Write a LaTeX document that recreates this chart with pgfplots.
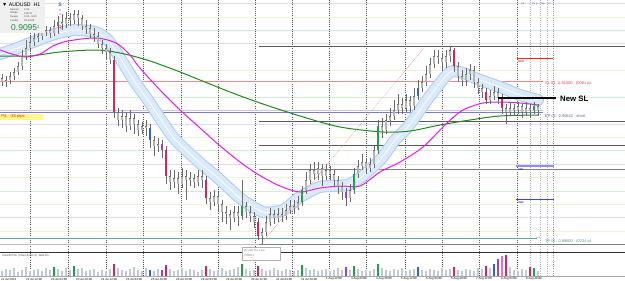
\documentclass[border=0pt]{standalone}
\usepackage{pgfplots}
\pgfplotsset{compat=1.18}
\usepackage{pgfplotstable}
\usepackage{fontspec}
\setmainfont{Liberation Sans}
\newcommand\fs[1]{\fontsize{#1}{#1}\selectfont}
\definecolor{lav}{HTML}{DCDCF2}
\definecolor{yel}{HTML}{EEF2D6}
\definecolor{grn}{HTML}{D4EED4}
\definecolor{darkln}{HTML}{5A5A5A}
\definecolor{slred}{HTML}{F08A8A}
\definecolor{entry}{HTML}{7C7CC8}
\definecolor{entrylt}{HTML}{C4C4EC}
\definecolor{tpgreen}{HTML}{5AAE8C}
\definecolor{bandedge}{HTML}{B0CFF0}
\definecolor{bandfill}{HTML}{DAEAFB}
\definecolor{mag}{HTML}{E81CE8}
\definecolor{maslow}{HTML}{1E8A1E}
\definecolor{wick}{HTML}{6A6A6A}
\definecolor{bodyd}{HTML}{707070}
\definecolor{bodyl}{HTML}{B4B4B4}
\definecolor{cred}{HTML}{E0205A}
\definecolor{cgreen}{HTML}{1FA04A}
\definecolor{cblue}{HTML}{3060E0}
\definecolor{cpurple}{HTML}{9A40E0}
\definecolor{cpink}{HTML}{F070B0}
\definecolor{volg}{HTML}{C4C8D4}

\pgfplotstableread{
x y
0 56
30 56
60 52
96 50
120 53
147 60
175 70
200 80
230 92
260 103
300 116
340 127
383 132
410 131
440 125
470 120
500 116
538 115
}\maslowtab

\pgfplotstableread{
x y
0 50
12 54
25 57
40 54
53 46
68 41
96 38
116 43
130 55
139 67
160 90
180 110
200 128
219 145
240 162
259 175
280 186
300 192
320 188
340 186
360 186
380 172
400 162
423 147
447 123
463 110
483 103
500 102
520 103
538 105
}\magtab

\pgfplotstableread{
x y
0 54
15 49
33 42
55 34
75 30
95 32
108 40
120 58
135 82
150 103
173 137
200 163
217 177
240 198
263 212
283 210
300 197
320 187
347 185
360 178
380 160
395 140
407 128
420 110
433 92
450 72
463 73
480 80
500 87
520 95
538 100
}\bandtab

\pgfplotstableread{
x o h l c
2 78 74 86 82
6 82 76 87 80
10 80 72 84 76
14 76 68 80 72
18 72 62 75 66
22 66 50 70 56
26 56 40 60 48
30 48 36 52 42
34 42 32 46 38
38 38 30 42 36
42 36 27 40 32
46 32 26 36 30
50 30 27 38 33
54 33 20 36 26
58 26 16 34 22
62 22 14 30 24
66 24 12 28 18
70 18 13 26 20
74 20 10 24 14
78 14 10 26 18
82 18 15 30 26
86 26 20 34 28
90 28 24 38 34
94 34 28 42 36
98 36 32 48 44
102 44 40 54 48
106 48 44 60 52
110 52 48 64 60
114 60 56 118 112
118 112 108 126 120
122 120 110 128 116
126 116 112 132 126
130 126 110 130 118
134 118 114 134 124
138 124 120 136 130
142 130 122 134 126
146 126 120 136 128
150 128 124 148 140
154 140 136 156 146
158 146 138 152 144
162 144 140 158 150
166 150 146 184 176
170 176 170 190 182
174 182 170 188 178
178 178 172 194 184
182 184 168 188 176
186 176 170 200 180
190 180 172 186 178
194 178 174 188 182
198 182 170 186 176
202 176 170 188 180
206 180 176 204 198
210 198 192 210 202
214 202 190 206 196
218 196 192 212 204
222 204 200 222 212
226 212 206 224 214
230 214 210 230 218
234 218 206 222 212
238 212 206 226 216
242 216 180 220 206
246 206 202 218 212
250 212 206 222 216
254 216 212 228 222
258 222 218 240 236
262 236 228 244 232
266 232 216 236 222
270 222 208 226 214
274 214 210 224 218
278 218 208 222 214
282 214 208 222 216
286 216 204 220 210
290 210 200 214 206
294 206 200 214 208
298 208 196 210 202
302 202 186 206 190
306 190 172 194 180
310 180 164 184 170
314 170 162 180 174
318 174 162 180 168
322 168 164 186 176
326 176 164 180 170
330 170 166 180 174
334 174 170 186 180
338 180 176 194 186
342 186 182 200 192
346 192 188 206 198
350 198 184 202 190
354 190 168 194 174
358 174 160 178 166
362 166 154 170 162
366 162 158 174 168
370 168 158 172 164
374 164 146 168 150
378 150 120 154 126
382 126 118 138 130
386 130 114 134 120
390 120 108 126 116
394 116 100 120 110
398 110 94 114 104
402 104 98 114 108
406 108 94 112 100
410 100 96 112 106
414 106 88 110 96
418 96 80 100 88
422 88 76 92 82
426 82 66 86 74
430 74 58 78 64
434 64 50 68 56
438 56 50 64 58
442 58 54 70 62
446 62 50 68 56
450 56 46 62 50
454 50 48 72 66
458 66 62 82 76
462 76 70 86 80
466 80 68 86 74
470 74 64 80 70
474 70 66 88 82
478 82 78 94 88
482 88 84 98 92
486 92 88 104 100
490 100 90 104 96
494 96 86 100 92
498 92 88 104 98
502 98 94 114 108
506 108 104 124 112
510 112 102 116 108
514 108 104 116 110
518 110 102 114 106
522 106 104 118 112
526 112 102 116 108
530 108 104 118 110
534 110 102 114 106
538 106 104 116 110
}\candles

\pgfplotstableread{
x o c
114 60 112
166 150 176
206 180 198
258 222 236
454 50 66
486 92 100
502 98 108
}\redc
\pgfplotstableread{
x o c
58 26 22
242 216 206
302 202 190
354 190 174
378 150 126
534 110 106
}\greenc
\pgfplotstableread{
x o c
150 128 140
418 96 88
}\bluec
\pgfplotstableread{
x o c
162 144 150
346 192 198
}\purplec

\pgfplotstableread{
x v
2 5
6 7
10 6
14 8
18 4
22 6
26 9
30 5
34 6
38 7
42 5
46 8
50 6
54 9
58 7
62 5
66 8
70 6
74 10
78 7
82 8
86 5
90 6
94 7
98 4
102 6
106 5
110 7
114 12
118 8
122 6
126 5
130 7
134 9
138 6
142 5
146 8
150 6
154 5
158 7
162 6
166 11
170 7
174 5
178 6
182 8
186 5
190 7
194 6
198 4
202 6
206 10
210 7
214 5
218 6
222 8
226 5
230 6
234 7
238 9
242 12
246 7
250 5
254 6
258 10
262 7
266 5
270 6
274 8
278 6
282 5
286 7
290 6
294 5
298 6
302 11
306 8
310 6
314 7
318 5
322 6
326 7
330 5
334 6
338 8
342 6
346 9
350 6
354 10
358 7
362 5
366 6
370 5
374 7
378 12
382 8
386 6
390 5
394 7
398 6
402 8
406 5
410 6
414 7
418 9
422 6
426 5
430 7
434 6
438 5
442 8
446 6
450 7
454 9
458 6
462 5
466 7
470 6
474 5
478 8
482 7
486 10
490 8
494 12
498 17
502 20
506 21
510 9
514 6
518 5
522 7
526 6
530 9
534 8
538 5
}\vol
\pgfplotstableread{
x v
114 12
166 11
206 10
258 10
454 9
486 10
506 21
530 9
}\volred
\pgfplotstableread{
x v
54 9
74 10
242 12
302 11
354 10
378 12
534 8
}\volgreen
\pgfplotstableread{
x v
150 6
418 9
494 12
}\volblue
\pgfplotstableread{
x v
162 6
346 9
498 17
}\volpurple
\pgfplotstableread{
x v
502 20
}\volpink

\newcommand\hl[4]{\addplot[#1, forget plot] coordinates {(#2,#4) (#3,#4)};}
\newcommand\vl[3]{\addplot[#1, forget plot] coordinates {(#2,0) (#2,#3)};}
\newcommand\bodies[2]{\addplot[draw=none, mark=none, forget plot, error bars/.cd, y dir=plus, y explicit, error mark=none, error bar style={color=#1, line width=2.4pt}] table[x=x, y expr={min(\thisrow{o},\thisrow{c})}, y error plus expr={max(abs(\thisrow{o}-\thisrow{c}),1)}] {#2};}
\newcommand\vbars[2]{\addplot[draw=none, mark=none, forget plot, error bars/.cd, y dir=plus, y explicit, error mark=none, error bar style={color=#1, line width=1.8pt}] table[x=x, y expr={276-\thisrow{v}}, y error plus expr={\thisrow{v}}] {#2};}

\begin{document}
\begin{tikzpicture}
\begin{axis}[
  width=625pt, height=281pt, scale only axis,
  xmin=0, xmax=625, ymin=0, ymax=281, y dir=reverse,
  axis line style={draw=none}, ticks=none,
  axis background/.style={fill=white},
  clip=true,
]
% light grid lines
\hl{lav, line width=0.5pt}{0}{625}{3}
\hl{yel, line width=0.5pt}{0}{625}{17}
\hl{grn, line width=0.5pt}{0}{625}{30}
\hl{lav, line width=0.5pt}{0}{625}{43}
\hl{yel, line width=0.5pt}{0}{625}{70}
\hl{grn, line width=0.5pt}{0}{625}{97}
\hl{lav, line width=0.5pt}{0}{625}{124}
\hl{yel, line width=0.5pt}{0}{625}{137}
\hl{grn, line width=0.5pt}{0}{625}{150}
\hl{lav, line width=0.5pt}{0}{625}{164}
\hl{yel, line width=0.5pt}{0}{625}{177}
\hl{grn, line width=0.5pt}{0}{625}{191}
\hl{yel, line width=0.5pt}{0}{625}{204}
\hl{lav, line width=0.5pt}{0}{625}{217}
\hl{yel, line width=0.5pt}{0}{625}{231}
% vertical dashed grid
\vl{darkln, line width=0.5pt, dash pattern=on 1pt off 1.2pt}{30}{276}
\vl{darkln, line width=0.5pt, dash pattern=on 1pt off 1.2pt}{68}{276}
\vl{darkln, line width=0.5pt, dash pattern=on 1pt off 1.2pt}{106}{276}
\vl{darkln, line width=0.5pt, dash pattern=on 1pt off 1.2pt}{143}{276}
\vl{darkln, line width=0.5pt, dash pattern=on 1pt off 1.2pt}{181}{276}
\vl{darkln, line width=0.5pt, dash pattern=on 1pt off 1.2pt}{218}{276}
\vl{darkln, line width=0.5pt, dash pattern=on 1pt off 1.2pt}{255}{276}
\vl{darkln, line width=0.5pt, dash pattern=on 1pt off 1.2pt}{292}{276}
\vl{darkln, line width=0.5pt, dash pattern=on 1pt off 1.2pt}{329}{276}
\vl{darkln, line width=0.5pt, dash pattern=on 1pt off 1.2pt}{366}{276}
\vl{darkln, line width=0.5pt, dash pattern=on 1pt off 1.2pt}{405}{276}
\vl{darkln, line width=0.5pt, dash pattern=on 1pt off 1.2pt}{442}{276}
\vl{darkln, line width=0.5pt, dash pattern=on 1pt off 1.2pt}{479}{276}
\vl{darkln, line width=0.5pt, dash pattern=on 1pt off 1.2pt}{517}{276}
\vl{gray!60, line width=0.5pt, dash pattern=on 1pt off 1.2pt}{530}{276}
\vl{gray!60, line width=0.5pt, dash pattern=on 1pt off 1.2pt}{540}{276}
\vl{gray!60, line width=0.5pt, dash pattern=on 1pt off 1.2pt}{547}{276}
\vl{gray!80, line width=0.5pt, dash pattern=on 1pt off 1.2pt}{553}{276}
% level lines
\hl{darkln, line width=0.6pt}{259}{625}{46}
\hl{darkln, line width=0.6pt}{259}{625}{121}
\hl{darkln, line width=0.6pt}{259}{625}{145}
\hl{gray, line width=0.6pt}{259}{625}{169}
\hl{slred, line width=0.7pt}{0}{543}{81}
\hl{entrylt, line width=0.9pt}{0}{543}{110.4}
\hl{entry, line width=1.1pt}{0}{543}{112.4}
\hl{tpgreen, line width=0.8pt}{0}{537}{238}
\hl{gray!50, line width=0.6pt}{0}{625}{244}
\hl{gray, line width=0.6pt}{259}{625}{244}
\hl{red!70!orange, line width=0.8pt}{517}{553}{58}
\hl{blue!45, line width=1.4pt}{516}{554}{166}
\hl{blue!75, line width=0.8pt}{516}{554}{199}
% band
\addplot[bandedge, line width=12pt, line join=round, line cap=round, smooth, tension=0.4, forget plot] table[x=x,y=y] {\bandtab};
\addplot[bandfill, line width=9.8pt, line join=round, line cap=round, smooth, tension=0.4, forget plot] table[x=x,y=y] {\bandtab};
\addplot[white, line width=0.7pt, smooth, tension=0.4, forget plot] table[x=x,y=y] {\bandtab};
% moving averages
\addplot[maslow, line width=1pt, smooth, forget plot] table[x=x,y=y] {\maslowtab};
\addplot[mag, line width=1pt, smooth, forget plot] table[x=x,y=y] {\magtab};
% candles
\addplot[draw=none, mark=none, forget plot, error bars/.cd, y dir=plus, y explicit, error mark=none, error bar style={color=wick, line width=0.6pt}] table[x=x, y=h, y error plus expr={\thisrow{l}-\thisrow{h}}] {\candles};
\bodies{bodyd}{\candles}
\addplot[draw=none, mark=none, forget plot, error bars/.cd, y dir=plus, y explicit, error mark=none, error bar style={color=bodyl, line width=1.1pt}] table[x=x, y expr={min(\thisrow{o},\thisrow{c})+0.5}, y error plus expr={max(abs(\thisrow{o}-\thisrow{c})-1,0.1)}] {\candles};
\bodies{cred}{\redc}
\bodies{cgreen}{\greenc}
\bodies{cblue}{\bluec}
\bodies{cpurple}{\purplec}
% trend line
\addplot[slred, densely dotted, line width=0.6pt, forget plot] coordinates {(261,244) (424,48)};
% new SL
\hl{black, line width=2pt}{498}{556}{98}
% volume panel
\hl{black!80, line width=1pt}{0}{625}{252}
\vbars{volg}{\vol}
\vbars{cred}{\volred}
\vbars{cgreen}{\volgreen}
\vbars{cblue}{\volblue}
\vbars{cpurple}{\volpurple}
\vbars{cpink}{\volpink}
\hl{gray!70, line width=0.5pt}{0}{625}{276.5}

% info box
\fill[gray!12] (axis cs:0,0) rectangle (axis cs:45,33);
\node[anchor=west, inner sep=0, font=\fs{5.2}] at (axis cs:2,4.5) {▼ AUDUSD\ \ H1};
\node[anchor=west, inner sep=0, font=\fs{2.6}, text=black!70] at (axis cs:10,9.5) {Spread};
\node[anchor=west, inner sep=0, font=\fs{2.6}, text=black!70] at (axis cs:10,13.3) {Range};
\node[anchor=west, inner sep=0, font=\fs{2.6}, text=black!70] at (axis cs:10,17.1) {Swaps};
\node[anchor=west, inner sep=0, font=\fs{2.6}, text=black!70] at (axis cs:10,20.9) {Candle};
\node[anchor=west, inner sep=0, font=\fs{2.6}, text=black!70] at (axis cs:24,9.5) {2.00};
\node[anchor=west, inner sep=0, font=\fs{2.6}, text=black!70] at (axis cs:24,13.3) {138.31};
\node[anchor=west, inner sep=0, font=\fs{2.6}, text=black!70] at (axis cs:24,17.1) {4.00, -9.40};
\node[anchor=west, inner sep=0, font=\fs{2.6}, text=black!70] at (axis cs:24,20.9) {00:44:08};
\node[anchor=west, inner sep=0, font=\fs{8.5}, text=cgreen!85!black] at (axis cs:11,27.5) {0.9095\raisebox{2.2pt}{\fs{4}2}};
% Sonic R letters
\node[inner sep=0, font=\fs{5}\bfseries, text=cblue] at (axis cs:60,5) {S};
\node[inner sep=0, font=\fs{3.5}, text=cpurple] at (axis cs:60,10.5) {o};
\node[inner sep=0, font=\fs{3.5}, text=cpurple!50!cpink] at (axis cs:60,14.5) {n};
\node[inner sep=0, font=\fs{3.5}, text=cpink] at (axis cs:60,18.5) {i};
\node[inner sep=0, font=\fs{3.5}, text=cpink] at (axis cs:60,22.3) {c};
\node[inner sep=0, font=\fs{5.5}, text=cred] at (axis cs:60,28) {R};
% P/L box
\fill[yellow!45] (axis cs:0,113.5) rectangle (axis cs:43,120);
\node[anchor=west, inner sep=0, font=\fs{4.2}, text=red!75!orange] at (axis cs:1,116.8) {P/L: -35 pips};
% right side labels
\node[anchor=west, inner sep=0, font=\fs{2.6}, text=blue!30!gray] at (axis cs:521,3.5) {Ae};
\node[anchor=west, inner sep=0, font=\fs{2.6}, text=blue!30!gray] at (axis cs:532,3.5) {Pu p};
\node[anchor=west, inner sep=0, font=\fs{2.6}, text=blue!30!gray] at (axis cs:541,3.5) {Np};
\node[anchor=west, inner sep=0, font=\fs{2.6}, text=blue!30!gray] at (axis cs:548,3.5) {Lc};
\node[anchor=west, inner sep=0, font=\fs{2.8}, text=red!60!black] at (axis cs:518,62) {RDH};
\node[anchor=west, inner sep=0, font=\fs{2.8}, text=blue!50!black] at (axis cs:518,170) {ADL};
\node[anchor=west, inner sep=0, font=\fs{2.8}, text=blue!50!black] at (axis cs:518,203) {AWL};
\node[anchor=west, inner sep=0, font=\fs{4}, text=red!80] at (axis cs:545,83.5) {SL 01: 0.91550\ \ \ (0061 p)};
\node[anchor=west, inner sep=0, font=\fs{4}, text=entry!80!black] at (axis cs:545,116) {EP 01: 0.90642\ \ \ short};
\node[anchor=west, inner sep=0, font=\fs{4}, text=tpgreen!90!black] at (axis cs:545,241) {TP 01: 0.89600\ \ \ (0234 p)};
\node[anchor=west, inner sep=0, font=\fs{2.4}, text=tpgreen!90!black] at (axis cs:536,238) {ooo};
\node[anchor=west, inner sep=0, font=\fs{7.8}\bfseries] at (axis cs:560,98.5) {New SL};
% trend label box
\draw[gray!60, fill=white, line width=0.4pt] (axis cs:242,247) rectangle (axis cs:280,260);
\node[anchor=west, inner sep=0, font=\fs{2.8}, text=gray] at (axis cs:244,250.5) {[Trend] TFL Line};
\node[anchor=west, inner sep=0, font=\fs{2.8}, text=gray] at (axis cs:244,256) {0.88810};
% volume caption
\node[anchor=west, inner sep=0, font=\fs{2.7}, text=black!75] at (axis cs:2,256) {SonicR PVA \ (Chart Zoom 3)\ \ \ Wait On};
% date labels
\node[anchor=west, inner sep=0, font=\fs{2.9}] at (axis cs:1,279) {21 Jul 2014};
\node[anchor=west, inner sep=0, font=\fs{2.9}] at (axis cs:26,279) {22 Jul 12:00};
\node[anchor=west, inner sep=0, font=\fs{2.9}] at (axis cs:51,279) {23 Jul 04:00};
\node[anchor=west, inner sep=0, font=\fs{2.9}] at (axis cs:76,279) {23 Jul 20:00};
\node[anchor=west, inner sep=0, font=\fs{2.9}] at (axis cs:101,279) {24 Jul 12:00};
\node[anchor=west, inner sep=0, font=\fs{2.9}] at (axis cs:126,279) {25 Jul 04:00};
\node[anchor=west, inner sep=0, font=\fs{2.9}] at (axis cs:151,279) {25 Jul 20:00};
\node[anchor=west, inner sep=0, font=\fs{2.9}] at (axis cs:176,279) {28 Jul 12:00};
\node[anchor=west, inner sep=0, font=\fs{2.9}] at (axis cs:201,279) {29 Jul 04:00};
\node[anchor=west, inner sep=0, font=\fs{2.9}] at (axis cs:226,279) {29 Jul 20:00};
\node[anchor=west, inner sep=0, font=\fs{2.9}] at (axis cs:251,279) {30 Jul 12:00};
\node[anchor=west, inner sep=0, font=\fs{2.9}] at (axis cs:276,279) {31 Jul 04:00};
\node[anchor=west, inner sep=0, font=\fs{2.9}] at (axis cs:301,279) {31 Jul 20:00};
\node[anchor=west, inner sep=0, font=\fs{2.9}] at (axis cs:326,279) {1 Aug 12:00};
\node[anchor=west, inner sep=0, font=\fs{2.9}] at (axis cs:351,279) {4 Aug 04:00};
\node[anchor=west, inner sep=0, font=\fs{2.9}] at (axis cs:376,279) {4 Aug 20:00};
\node[anchor=west, inner sep=0, font=\fs{2.9}] at (axis cs:401,279) {5 Aug 12:00};
\node[anchor=west, inner sep=0, font=\fs{2.9}] at (axis cs:426,279) {6 Aug 04:00};
\node[anchor=west, inner sep=0, font=\fs{2.9}] at (axis cs:451,279) {6 Aug 20:00};
\node[anchor=west, inner sep=0, font=\fs{2.9}] at (axis cs:476,279) {7 Aug 12:00};
\node[anchor=west, inner sep=0, font=\fs{2.9}] at (axis cs:501,279) {8 Aug 04:00};
\node[anchor=west, inner sep=0, font=\fs{2.9}] at (axis cs:526,279) {8 Aug 20:00};
\end{axis}
\end{tikzpicture}
\end{document}
